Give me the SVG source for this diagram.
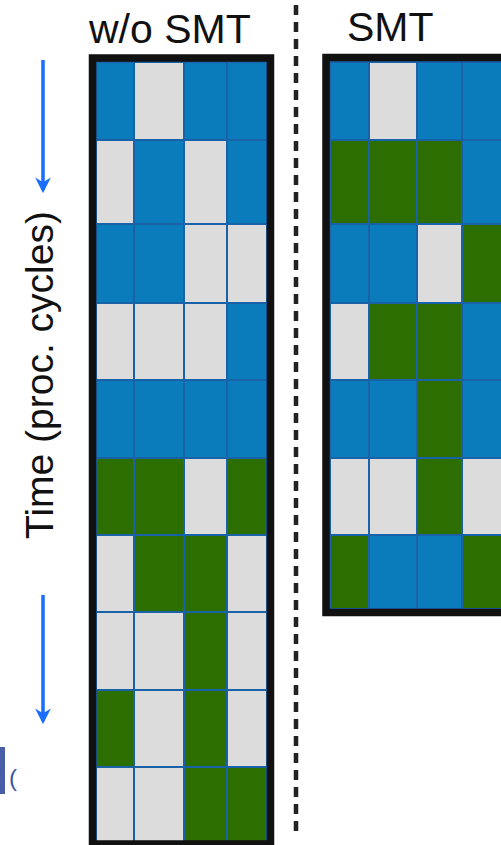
<svg xmlns="http://www.w3.org/2000/svg" width="501" height="845" viewBox="0 0 501 845">
  <style>
    .b{fill:#0a7bbb}
    .g{fill:#2c6e00}
    .w{fill:#dcdcdc}
    .cell rect{stroke:#1a62a8;stroke-width:2}
    .cell rect.frame{fill:none;stroke:#111;stroke-width:7.5}
    .lbl{font-family:"Liberation Sans",Arial,sans-serif;fill:#111}
    .arr{stroke:#1a6dff;stroke-width:3.5;fill:none}
    .head{fill:#1a6dff}
  </style>
  <defs>
    <marker id="ah" viewBox="0 0 10 10" refX="8" refY="5" markerWidth="4.5" markerHeight="4.5" orient="auto" markerUnits="strokeWidth">
      <path d="M0,0 L10,5 L0,10 L3,5 Z" class="head"/>
    </marker>
  </defs>
  <rect width="501" height="845" fill="#fff"/>

  <text class="lbl" x="89" y="43" font-size="41">w/o SMT</text>
  <text class="lbl" x="347" y="41" font-size="41">SMT</text>
  <text class="lbl" transform="translate(53,375) rotate(-90)" text-anchor="middle" font-size="39">Time (proc. cycles)</text>

  <g id="arrows">
    <line class="arr" x1="43" y1="60" x2="43" y2="190" marker-end="url(#ah)"/>
    <line class="arr" x1="43" y1="595" x2="43" y2="721" marker-end="url(#ah)"/>
  </g>

  <g id="divider">
    <line x1="296" y1="5" x2="296" y2="835" stroke="#222" stroke-width="4.5" stroke-dasharray="10 7"/>
  </g>

  <g id="grid-wo-smt" class="cell">
    <rect class="b" x="96" y="62" width="38" height="78"/>
    <rect class="w" x="134" y="62" width="50" height="78"/>
    <rect class="b" x="184" y="62" width="43" height="78"/>
    <rect class="b" x="227" y="62" width="40" height="78"/>

    <rect class="w" x="96" y="140" width="38" height="84"/>
    <rect class="b" x="134" y="140" width="50" height="84"/>
    <rect class="w" x="184" y="140" width="43" height="84"/>
    <rect class="b" x="227" y="140" width="40" height="84"/>

    <rect class="b" x="96" y="224" width="38" height="79"/>
    <rect class="b" x="134" y="224" width="50" height="79"/>
    <rect class="w" x="184" y="224" width="43" height="79"/>
    <rect class="w" x="227" y="224" width="40" height="79"/>

    <rect class="w" x="96" y="303" width="38" height="77"/>
    <rect class="w" x="134" y="303" width="50" height="77"/>
    <rect class="w" x="184" y="303" width="43" height="77"/>
    <rect class="b" x="227" y="303" width="40" height="77"/>

    <rect class="b" x="96" y="380" width="38" height="78"/>
    <rect class="b" x="134" y="380" width="50" height="78"/>
    <rect class="b" x="184" y="380" width="43" height="78"/>
    <rect class="b" x="227" y="380" width="40" height="78"/>

    <rect class="g" x="96" y="458" width="38" height="77"/>
    <rect class="g" x="134" y="458" width="50" height="77"/>
    <rect class="w" x="184" y="458" width="43" height="77"/>
    <rect class="g" x="227" y="458" width="40" height="77"/>

    <rect class="w" x="96" y="535" width="38" height="77"/>
    <rect class="g" x="134" y="535" width="50" height="77"/>
    <rect class="g" x="184" y="535" width="43" height="77"/>
    <rect class="w" x="227" y="535" width="40" height="77"/>

    <rect class="w" x="96" y="612" width="38" height="78"/>
    <rect class="w" x="134" y="612" width="50" height="78"/>
    <rect class="g" x="184" y="612" width="43" height="78"/>
    <rect class="w" x="227" y="612" width="40" height="78"/>

    <rect class="g" x="96" y="690" width="38" height="77"/>
    <rect class="w" x="134" y="690" width="50" height="77"/>
    <rect class="g" x="184" y="690" width="43" height="77"/>
    <rect class="w" x="227" y="690" width="40" height="77"/>

    <rect class="w" x="96" y="767" width="38" height="75"/>
    <rect class="w" x="134" y="767" width="50" height="75"/>
    <rect class="g" x="184" y="767" width="43" height="75"/>
    <rect class="g" x="227" y="767" width="40" height="75"/>

    <rect class="frame" x="92.5" y="58" width="178" height="786"/>
  </g>

  <g id="grid-smt" class="cell">
    <rect class="b" x="330" y="62" width="39" height="78"/>
    <rect class="w" x="369" y="62" width="48" height="78"/>
    <rect class="b" x="417" y="62" width="45" height="78"/>
    <rect class="b" x="462" y="62" width="48" height="78"/>

    <rect class="g" x="330" y="140" width="39" height="84"/>
    <rect class="g" x="369" y="140" width="48" height="84"/>
    <rect class="g" x="417" y="140" width="45" height="84"/>
    <rect class="b" x="462" y="140" width="48" height="84"/>

    <rect class="b" x="330" y="224" width="39" height="79"/>
    <rect class="b" x="369" y="224" width="48" height="79"/>
    <rect class="w" x="417" y="224" width="45" height="79"/>
    <rect class="g" x="462" y="224" width="48" height="79"/>

    <rect class="w" x="330" y="303" width="39" height="77"/>
    <rect class="g" x="369" y="303" width="48" height="77"/>
    <rect class="g" x="417" y="303" width="45" height="77"/>
    <rect class="b" x="462" y="303" width="48" height="77"/>

    <rect class="b" x="330" y="380" width="39" height="78"/>
    <rect class="b" x="369" y="380" width="48" height="78"/>
    <rect class="g" x="417" y="380" width="45" height="78"/>
    <rect class="b" x="462" y="380" width="48" height="78"/>

    <rect class="w" x="330" y="458" width="39" height="77"/>
    <rect class="w" x="369" y="458" width="48" height="77"/>
    <rect class="g" x="417" y="458" width="45" height="77"/>
    <rect class="w" x="462" y="458" width="48" height="77"/>

    <rect class="g" x="330" y="535" width="39" height="74"/>
    <rect class="b" x="369" y="535" width="48" height="74"/>
    <rect class="b" x="417" y="535" width="45" height="74"/>
    <rect class="g" x="462" y="535" width="48" height="74"/>

    <rect class="frame" x="326" y="57.5" width="200" height="555"/>
  </g>

  <g id="corner-fragment">
    <rect x="0" y="747" width="5" height="47" fill="#4a5ea8"/>
    <text x="9" y="786" font-family="Liberation Sans,Arial,sans-serif" font-size="24" fill="#3a55a0">(</text>
  </g>
</svg>
